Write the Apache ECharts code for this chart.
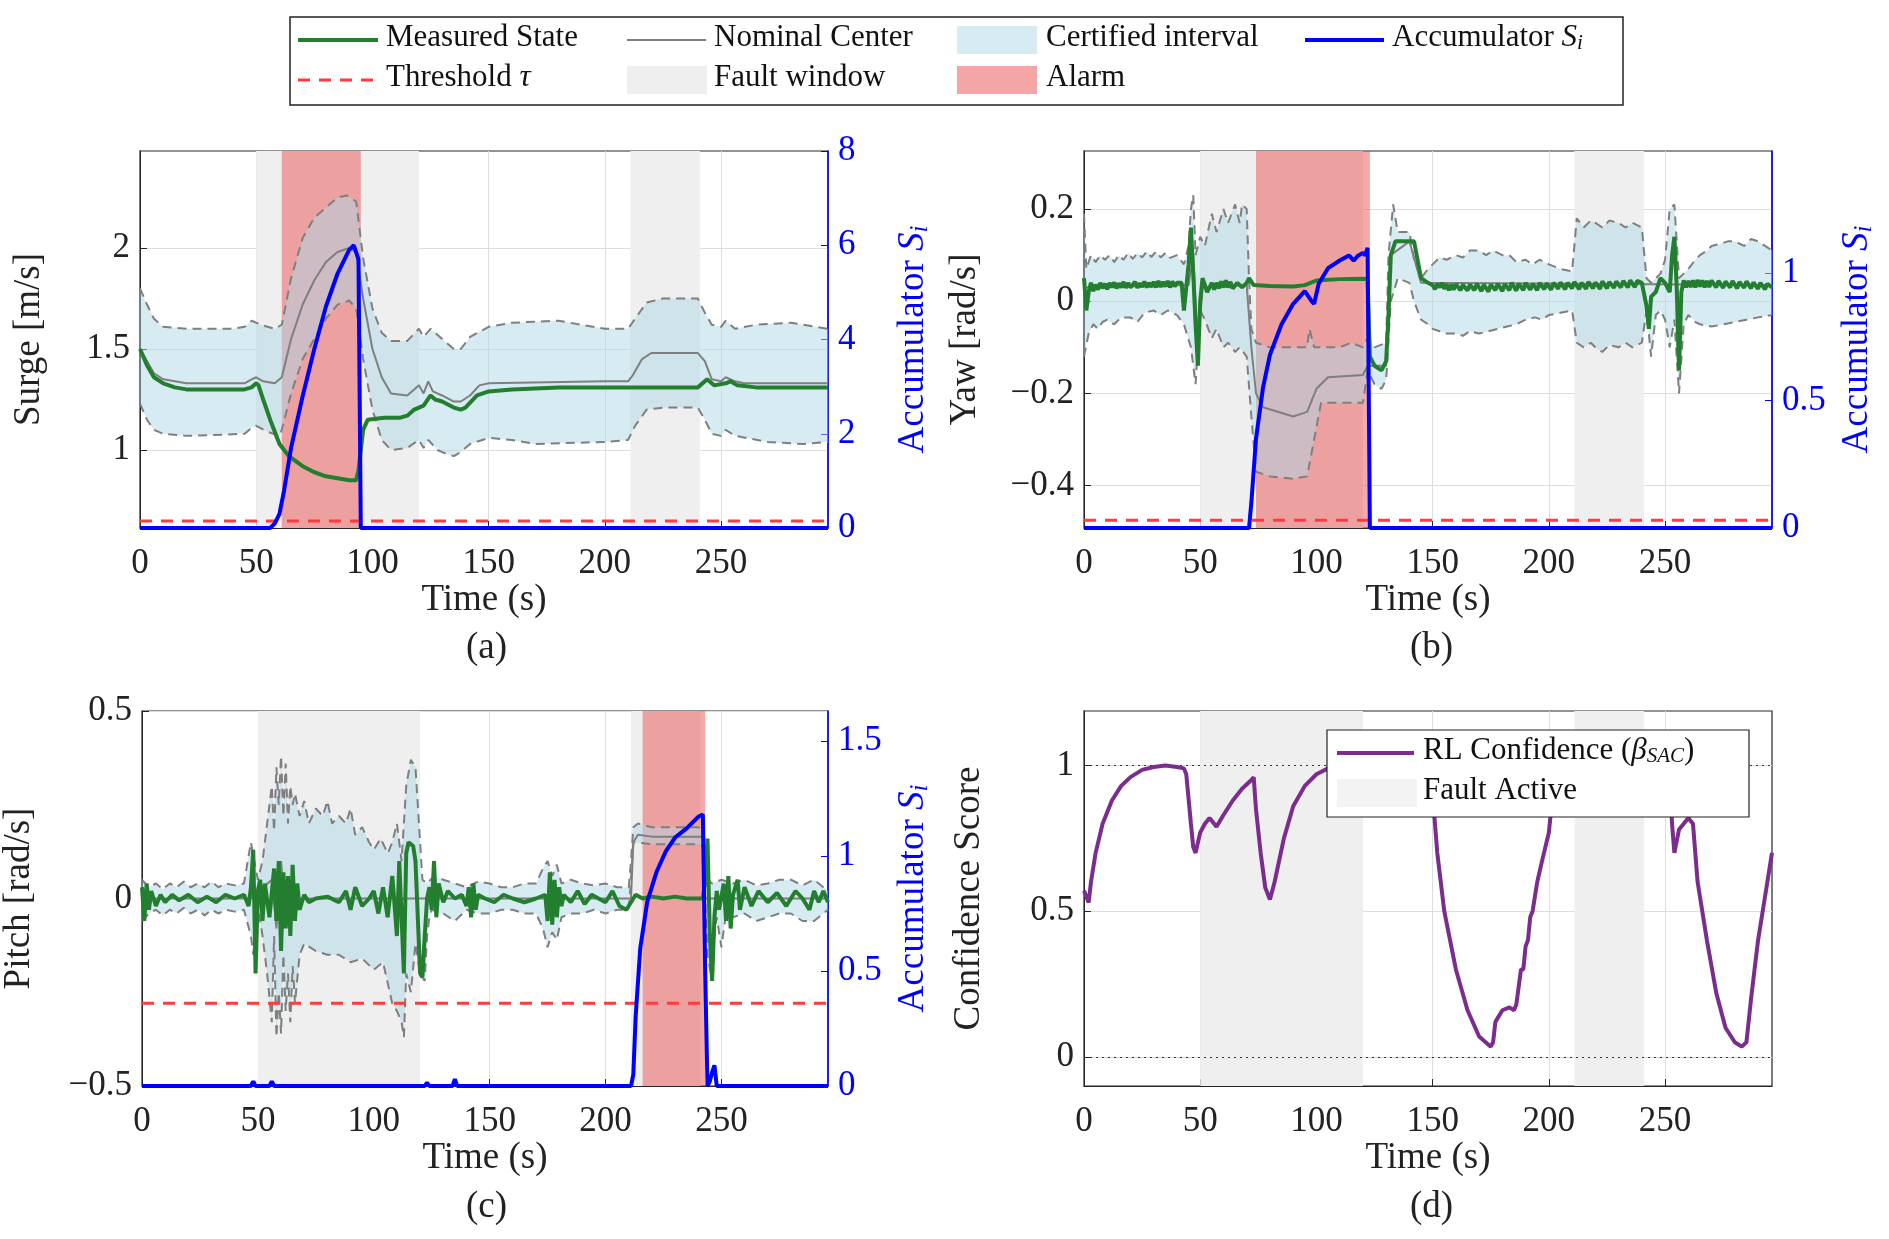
<!DOCTYPE html>
<html>
<head>
<meta charset="utf-8">
<script src="https://cdn.jsdelivr.net/npm/echarts@6/dist/echarts.min.js"></script>
<style>html,body{margin:0;padding:0;background:#fff}#main{width:1889px;height:1239px}</style>
</head>
<body>
<div id="main"></div>
<script type="text/javascript">
// ---------- shared ----------
var tMax = 296;
var xTicks = [0, 50, 100, 150, 200, 250];
var faultWins = [[50, 120], [211, 241]];

// ---------- (a) surge ----------
var alarmA = [61, 95];
var tauA = 0.15;
var measA = [[0,1.50],[3,1.42],[6,1.36],[10,1.33],[15,1.31],[20,1.30],[45,1.30],[48,1.31],[50,1.33],[51,1.32],[53,1.25],[56,1.15],[60,1.03],[64,0.97],[70,0.92],[75,0.89],[80,0.87],[85,0.86],[90,0.85],[93,0.85],[94,0.90],[96,1.10],[98,1.15],[105,1.16],[112,1.16],[115,1.17],[118,1.20],[122,1.22],[125,1.27],[127,1.25],[130,1.24],[135,1.21],[138,1.20],[140,1.21],[145,1.27],[150,1.29],[160,1.30],[180,1.31],[200,1.31],[240,1.31],[244,1.35],[247,1.32],[252,1.33],[254,1.34],[257,1.32],[265,1.31],[296,1.31]];
var nomA = [[0,1.50],[3,1.44],[6,1.38],[10,1.35],[20,1.33],[45,1.33],[48,1.35],[50,1.36],[53,1.34],[58,1.33],[61,1.36],[65,1.55],[70,1.72],[75,1.84],[80,1.93],[85,1.98],[90,2.00],[93,1.98],[96,1.75],[100,1.50],[104,1.36],[108,1.28],[115,1.27],[120,1.32],[122,1.28],[124,1.34],[126,1.29],[130,1.27],[135,1.24],[138,1.24],[142,1.27],[146,1.32],[150,1.33],[200,1.34],[210,1.34],[212,1.37],[216,1.45],[220,1.48],[240,1.48],[243,1.44],[246,1.35],[250,1.34],[252,1.36],[256,1.34],[260,1.33],[296,1.33]];
var upA = [[0,1.80],[3,1.72],[6,1.65],[10,1.61],[20,1.60],[40,1.60],[45,1.61],[48,1.64],[52,1.62],[58,1.60],[61,1.62],[65,1.85],[70,2.05],[75,2.15],[80,2.20],[85,2.25],[89,2.26],[93,2.23],[96,1.95],[100,1.70],[104,1.58],[108,1.54],[115,1.54],[120,1.60],[122,1.56],[125,1.60],[130,1.55],[135,1.50],[138,1.50],[142,1.56],[150,1.61],[160,1.63],[180,1.64],[200,1.60],[210,1.60],[213,1.65],[218,1.73],[225,1.75],[240,1.75],[243,1.68],[246,1.62],[250,1.61],[252,1.64],[256,1.60],[265,1.62],[280,1.63],[296,1.60]];
var loA = [[0,1.23],[3,1.15],[6,1.10],[10,1.08],[20,1.07],[45,1.08],[48,1.11],[50,1.12],[55,1.09],[60,1.07],[61,1.10],[65,1.28],[70,1.45],[75,1.55],[80,1.65],[85,1.72],[90,1.74],[93,1.70],[96,1.45],[100,1.20],[104,1.05],[108,1.00],[115,1.01],[120,1.05],[122,1.01],[124,1.05],[128,1.00],[132,0.98],[135,0.97],[138,0.99],[142,1.03],[150,1.06],[160,1.05],[170,1.03],[200,1.04],[210,1.05],[213,1.12],[218,1.20],[225,1.21],[240,1.21],[243,1.15],[246,1.08],[250,1.07],[252,1.10],[256,1.07],[270,1.04],[285,1.03],[296,1.04]];
var accA = [[0,0],[56,0],[58,0.1],[60,0.3],[62,0.8],[65,1.7],[70,2.8],[75,3.8],[80,4.7],[85,5.4],[90,5.9],[92,6.0],[94,5.7],[95,0],[296,0]];

// ---------- (b) yaw ----------
var alarmB = [74, 123];
var tauB = 0.03;
var measB = [[0,0.05],[1,-0.02],[2,0.02],[3,0.04],[4,0.022],[5,0.036],[6,0.025],[7,0.04],[8,0.028],[9,0.038],[10,0.026],[11,0.04],[12,0.03],[13,0.041],[14,0.028],[15,0.039],[16,0.03],[17,0.042],[18,0.029],[19,0.04],[20,0.03],[22,0.042],[23,0.029],[24,0.039],[25,0.031],[26,0.043],[27,0.03],[28,0.04],[29,0.031],[30,0.042],[31,0.03],[32,0.044],[33,0.031],[34,0.042],[35,0.032],[36,0.044],[37,0.03],[38,0.043],[39,0.032],[40,0.04],[42,0.04],[43,-0.02],[44,0.03],[45,0.08],[46,0.16],[47,0.06],[48,-0.05],[49,-0.14],[50,0.0],[51,0.05],[53,0.02],[55,0.04],[56,0.025],[57,0.04],[58,0.028],[59,0.043],[60,0.03],[61,0.045],[62,0.03],[63,0.042],[64,0.028],[66,0.04],[68,0.03],[70,0.04],[71,0.05],[73,0.035],[80,0.033],[90,0.032],[95,0.035],[100,0.045],[110,0.048],[120,0.049],[122,0.048],[123,-0.12],[125,-0.14],[128,-0.15],[130,-0.13],[131,-0.03],[132,0.10],[134,0.13],[140,0.13],[142,0.13],[145,0.05],[148,0.04],[150,0.035],[151,0.026],[152,0.038],[153,0.03],[154,0.04],[155,0.027],[156,0.037],[157,0.024],[158,0.036],[159,0.025],[160,0.037],[162,0.024],[163,0.036],[165,0.023],[166,0.036],[168,0.024],[169,0.038],[171,0.022],[172,0.036],[174,0.021],[175,0.036],[177,0.024],[178,0.038],[180,0.022],[181,0.037],[183,0.024],[184,0.04],[186,0.023],[187,0.038],[189,0.024],[190,0.04],[192,0.025],[193,0.038],[195,0.024],[196,0.04],[198,0.026],[199,0.039],[201,0.025],[202,0.04],[204,0.027],[205,0.041],[207,0.026],[208,0.04],[210,0.028],[211,0.042],[213,0.026],[214,0.04],[216,0.027],[217,0.042],[219,0.028],[220,0.041],[222,0.027],[223,0.043],[225,0.028],[226,0.042],[228,0.029],[229,0.043],[231,0.03],[232,0.044],[234,0.03],[235,0.045],[237,0.031],[238,0.044],[240,0.04],[242,-0.01],[243,-0.06],[244,0.01],[246,0.02],[248,0.05],[250,0.04],[252,0.02],[253,0.1],[254,0.14],[255,0.03],[256,-0.15],[257,0.02],[258,0.045],[259,0.03],[260,0.044],[261,0.031],[262,0.045],[263,0.03],[264,0.046],[265,0.032],[266,0.045],[267,0.03],[268,0.044],[269,0.031],[270,0.045],[272,0.03],[273,0.044],[275,0.029],[276,0.043],[278,0.03],[279,0.044],[281,0.028],[282,0.042],[284,0.029],[285,0.043],[287,0.028],[288,0.041],[290,0.027],[291,0.04],[293,0.026],[294,0.038],[296,0.03]];
var nomB = [[0,0.03],[45,0.035],[47,0.1],[49,-0.1],[51,0.03],[70,0.035],[72,-0.1],[74,-0.2],[77,-0.23],[90,-0.25],[96,-0.24],[100,-0.19],[105,-0.165],[120,-0.16],[122,-0.14],[130,-0.14],[132,0.1],[140,0.13],[145,0.04],[296,0.035]];
var upB = [[0,0.19],[1,0.07],[3,0.1],[5,0.085],[7,0.1],[9,0.09],[11,0.1],[13,0.085],[15,0.1],[17,0.09],[19,0.105],[21,0.092],[23,0.105],[25,0.095],[27,0.108],[29,0.096],[31,0.108],[33,0.095],[35,0.105],[37,0.094],[40,0.1],[43,0.08],[45,0.12],[46,0.2],[47,0.23],[48,0.1],[50,0.14],[52,0.12],[55,0.19],[57,0.15],[60,0.2],[62,0.17],[65,0.21],[67,0.17],[68,0.21],[70,0.2],[71,0.05],[72,-0.06],[74,-0.09],[80,-0.1],[96,-0.1],[97,-0.06],[99,-0.1],[110,-0.1],[115,-0.09],[120,-0.1],[122,-0.08],[125,-0.1],[130,-0.09],[131,0.1],[133,0.21],[135,0.15],[140,0.15],[142,0.09],[145,0.05],[148,0.07],[150,0.08],[153,0.095],[156,0.09],[160,0.1],[163,0.095],[166,0.11],[170,0.11],[173,0.1],[176,0.11],[180,0.1],[183,0.1],[186,0.085],[190,0.09],[193,0.08],[196,0.09],[200,0.08],[205,0.07],[210,0.065],[212,0.18],[215,0.16],[218,0.175],[220,0.17],[223,0.16],[226,0.175],[230,0.17],[233,0.16],[236,0.17],[240,0.16],[242,0.05],[244,0.04],[248,0.06],[250,0.09],[252,0.2],[254,0.21],[256,0.05],[258,0.06],[260,0.07],[263,0.09],[265,0.1],[268,0.11],[270,0.12],[274,0.125],[277,0.13],[280,0.13],[284,0.12],[287,0.135],[290,0.13],[293,0.12],[296,0.11]];
var loB = [[0,-0.12],[2,-0.07],[4,-0.05],[6,-0.06],[8,-0.045],[10,-0.04],[13,-0.05],[16,-0.035],[20,-0.035],[23,-0.045],[26,-0.025],[30,-0.02],[33,-0.03],[36,-0.02],[40,-0.03],[43,-0.05],[46,-0.1],[48,-0.18],[50,-0.02],[52,-0.04],[55,-0.08],[57,-0.06],[60,-0.1],[62,-0.09],[65,-0.11],[67,-0.1],[70,-0.12],[72,-0.25],[74,-0.37],[80,-0.38],[90,-0.385],[96,-0.38],[99,-0.3],[102,-0.22],[110,-0.22],[120,-0.22],[122,-0.15],[125,-0.18],[128,-0.19],[130,-0.17],[132,0.0],[135,0.05],[140,0.04],[142,0.0],[145,-0.04],[148,-0.05],[150,-0.06],[153,-0.065],[156,-0.07],[160,-0.07],[163,-0.075],[166,-0.065],[170,-0.07],[174,-0.065],[178,-0.06],[182,-0.055],[186,-0.05],[190,-0.04],[194,-0.035],[197,-0.04],[200,-0.03],[205,-0.025],[210,-0.02],[212,-0.09],[215,-0.1],[218,-0.09],[220,-0.1],[223,-0.11],[226,-0.095],[230,-0.1],[233,-0.09],[236,-0.1],[240,-0.09],[242,-0.02],[244,-0.12],[246,-0.03],[248,-0.02],[250,-0.04],[252,-0.1],[254,-0.04],[256,-0.2],[258,-0.05],[260,-0.03],[263,-0.045],[265,-0.05],[270,-0.055],[275,-0.05],[280,-0.045],[285,-0.04],[290,-0.035],[296,-0.03]];
var accB = [[0,0],[71,0],[72,0.1],[74,0.35],[77,0.55],[80,0.68],[85,0.8],[90,0.88],[95,0.93],[98,0.89],[99,0.88],[101,0.96],[105,1.02],[110,1.05],[114,1.07],[116,1.05],[118,1.07],[120,1.08],[121,1.07],[122,1.1],[123,0],[296,0]];

// ---------- (c) pitch ----------
var alarmC = [216, 243];
var tauC = 0.36;
var measC = [[0,0.03],[1,-0.06],[2,0.04],[3,-0.03],[4,0.02],[6,-0.02],[8,0.01],[10,-0.01],[13,0.01],[16,-0.005],[20,0.01],[24,-0.01],[28,0.005],[32,-0.01],[36,0.01],[40,0.0],[44,0.01],[46,-0.02],[47,0.03],[48,0.13],[49,-0.2],[50,0.02],[51,0.05],[52,-0.06],[53,0.04],[55,-0.05],[57,0.08],[58,-0.06],[59,0.1],[60,-0.14],[61,0.07],[62,-0.08],[63,0.06],[64,-0.1],[65,0.09],[66,-0.06],[67,0.04],[68,-0.03],[70,0.01],[72,-0.01],[75,0.0],[80,0.005],[85,-0.01],[88,0.02],[90,-0.03],[92,0.03],[95,-0.02],[98,0.0],[100,0.02],[102,-0.04],[104,0.03],[106,-0.05],[108,0.06],[110,-0.1],[111,0.1],[112,-0.05],[113,-0.2],[114,0.12],[115,0.15],[117,0.14],[118,0.1],[119,-0.05],[120,-0.2],[121,-0.21],[122,-0.1],[123,0.0],[124,0.03],[125,-0.03],[126,0.1],[127,-0.05],[128,0.04],[130,-0.01],[132,0.02],[135,0.0],[138,0.01],[140,-0.02],[141,0.03],[142,-0.05],[143,0.04],[144,-0.03],[145,0.01],[148,0.0],[152,-0.01],[156,0.01],[160,0.0],[165,-0.01],[170,0.0],[174,0.01],[175,-0.06],[176,0.07],[177,-0.07],[178,0.05],[179,-0.05],[180,0.03],[181,-0.02],[182,0.01],[185,-0.01],[188,0.02],[191,-0.015],[194,0.01],[197,0.0],[200,-0.01],[203,0.02],[206,-0.02],[209,-0.03],[211,-0.01],[213,0.01],[216,0.0],[220,0.005],[225,0.0],[230,0.005],[235,0.0],[240,0.0],[242,0.0],[243,0.05],[244,0.16],[245,-0.1],[246,-0.22],[247,-0.05],[248,0.02],[249,-0.03],[251,0.04],[252,-0.06],[253,0.06],[254,-0.08],[255,0.01],[257,0.05],[258,-0.03],[260,0.03],[263,-0.02],[266,0.02],[270,-0.01],[274,0.015],[278,-0.02],[282,0.02],[285,0.0],[288,-0.03],[290,0.02],[292,-0.01],[294,0.02],[296,-0.01]];
var nomC = [[0,0],[47,0],[56,0.05],[58,-0.08],[60,0.1],[62,-0.05],[64,0.04],[66,0],[211,0],[212,0.15],[214,0.17],[220,0.165],[242,0.165],[243,0],[296,0]];
var upC = [[0,0.05],[3,0.03],[6,0.04],[9,0.025],[12,0.04],[15,0.03],[18,0.045],[21,0.03],[24,0.04],[27,0.03],[30,0.045],[33,0.03],[36,0.04],[40,0.035],[44,0.04],[47,0.15],[50,0.05],[52,0.1],[54,0.2],[56,0.3],[57,0.18],[58,0.35],[59,0.25],[60,0.38],[61,0.22],[62,0.36],[63,0.2],[64,0.3],[65,0.25],[66,0.28],[68,0.22],[70,0.26],[72,0.2],[75,0.24],[78,0.22],[80,0.26],[82,0.2],[85,0.22],[88,0.2],[90,0.24],[92,0.17],[95,0.19],[98,0.15],[100,0.13],[103,0.16],[106,0.12],[108,0.15],[110,0.2],[112,0.1],[114,0.3],[116,0.37],[118,0.35],[119,0.25],[120,0.15],[121,0.05],[123,0.04],[126,0.06],[130,0.05],[135,0.04],[140,0.03],[145,0.045],[150,0.04],[155,0.03],[160,0.03],[165,0.04],[170,0.04],[173,0.08],[175,0.1],[177,0.06],[179,0.09],[181,0.04],[185,0.05],[190,0.04],[195,0.035],[200,0.04],[205,0.03],[210,0.03],[211,0.1],[212,0.19],[214,0.2],[220,0.19],[230,0.19],[240,0.19],[242,0.18],[243,0.1],[244,0.05],[246,0.04],[250,0.05],[255,0.04],[260,0.05],[265,0.035],[270,0.04],[275,0.05],[280,0.05],[285,0.035],[290,0.05],[296,0.02]];
var loC = [[0,-0.06],[3,-0.04],[6,-0.03],[9,-0.045],[12,-0.03],[15,-0.04],[18,-0.025],[21,-0.04],[24,-0.03],[27,-0.045],[30,-0.03],[33,-0.04],[36,-0.03],[40,-0.035],[44,-0.03],[47,-0.1],[48,-0.15],[50,-0.02],[52,-0.1],[54,-0.2],[56,-0.33],[57,-0.1],[58,-0.37],[59,-0.25],[60,-0.36],[61,-0.15],[62,-0.3],[63,-0.2],[64,-0.33],[65,-0.18],[66,-0.28],[68,-0.15],[70,-0.12],[75,-0.14],[80,-0.15],[85,-0.15],[90,-0.17],[95,-0.16],[100,-0.19],[104,-0.17],[108,-0.28],[110,-0.3],[112,-0.33],[113,-0.37],[114,-0.2],[116,-0.25],[118,-0.12],[120,-0.2],[122,-0.22],[123,-0.1],[124,-0.05],[125,-0.03],[130,-0.04],[135,-0.06],[140,-0.03],[145,-0.04],[150,-0.04],[155,-0.03],[160,-0.03],[165,-0.04],[170,-0.04],[173,-0.08],[175,-0.13],[177,-0.09],[179,-0.11],[181,-0.05],[185,-0.04],[190,-0.04],[195,-0.03],[200,-0.04],[205,-0.03],[210,-0.03],[211,0.05],[212,0.15],[220,0.145],[230,0.145],[240,0.145],[242,0.14],[243,0.0],[244,-0.15],[246,-0.22],[247,-0.1],[248,-0.05],[250,-0.13],[252,-0.04],[255,-0.05],[260,-0.04],[265,-0.06],[270,-0.05],[275,-0.04],[280,-0.04],[285,-0.06],[290,-0.06],[296,-0.03]];
var accC = [[0,0],[47,0],[48,0.02],[49,0],[55,0],[56,0.02],[57,0],[122,0],[123,0.015],[124,0],[134,0],[135,0.03],[136,0],[211,0],[212,0.05],[213,0.3],[215,0.6],[218,0.8],[222,0.93],[226,1.02],[230,1.08],[235,1.12],[240,1.17],[242,1.18],[243,0.5],[244,0],[245,0.02],[246,0.06],[247,0.09],[248,0],[296,0]];

// ---------- (d) confidence ----------
var confD = [[0,0.57],[1,0.55],[2,0.53],[3,0.6],[5,0.7],[8,0.8],[12,0.88],[16,0.93],[20,0.96],[25,0.985],[30,0.995],[35,1.0],[40,0.995],[43,0.99],[44,0.97],[46,0.8],[47,0.72],[48,0.7],[50,0.77],[52,0.8],[54,0.82],[56,0.8],[57,0.79],[60,0.83],[64,0.88],[68,0.92],[72,0.95],[73,0.96],[74,0.85],[76,0.7],[78,0.58],[80,0.54],[82,0.6],[86,0.75],[90,0.86],[95,0.93],[100,0.97],[105,0.99],[110,1.0],[130,1.0],[140,1.0],[148,0.98],[150,0.9],[152,0.7],[155,0.5],[160,0.3],[165,0.16],[170,0.07],[175,0.035],[176,0.05],[177,0.12],[180,0.16],[183,0.17],[185,0.16],[186,0.18],[188,0.3],[189,0.3],[190,0.38],[191,0.4],[192,0.48],[193,0.5],[194,0.55],[195,0.6],[197,0.67],[200,0.77],[201,0.85],[205,0.92],[210,0.97],[220,0.99],[250,1.0],[252,0.95],[253,0.8],[254,0.7],[256,0.78],[258,0.8],[260,0.82],[262,0.8],[264,0.6],[268,0.4],[272,0.22],[276,0.1],[280,0.05],[283,0.035],[285,0.05],[287,0.2],[290,0.4],[294,0.6],[296,0.7]];

// ---------- colours / fonts ----------
var FF = '"Liberation Serif", "DejaVu Serif", serif';
var cGreen = '#237f2f', cGray = '#7f7f7f', cBlue = '#0000ff', cRed = '#ff3b3b';
var cBand = 'rgba(173,216,230,0.5)', cFault = '#efefef', cAlarm = 'rgba(232,64,64,0.45)', cPurple = '#7b2d8e';

function fmt(v){ return String(v).replace('-', '\u2212'); }

var grids = [
  {left:140, top:151, width:688, height:377},
  {left:1084, top:151, width:688, height:377},
  {left:140, top:711, width:688, height:375},
  {left:1084, top:711, width:688, height:375}
];
grids.forEach(function(g){ g.show = true; g.borderColor = '#262626'; g.borderWidth = 1.2; g.backgroundColor = 'transparent'; });

var xAxes = grids.map(function(g, i){
  return {
    gridIndex:i, type:'value', min:0, max:tMax,
    name:'Time (s)', nameLocation:'middle', nameGap:54,
    nameTextStyle:{fontFamily:FF, fontSize:37, color:'#222'},
    axisLine:{onZero:false, lineStyle:{color:'#262626'}},
    axisTick:{inside:true, length:7, customValues:xTicks, lineStyle:{color:'#262626'}},
    axisLabel:{customValues:xTicks, fontFamily:FF, fontSize:35, color:'#222', margin:18},
    splitLine:{show:true, lineStyle:{color:'#dedede'}}
  };
});

function leftAx(gi, min, max, ticks, name, gap){
  return {
    gridIndex:gi, type:'value', min:min, max:max, position:'left',
    name:name, nameLocation:'middle', nameGap:gap, nameRotate:90,
    nameTextStyle:{fontFamily:FF, fontSize:37, color:'#222'},
    axisLine:{show:true, onZero:false, lineStyle:{color:'#262626'}},
    axisTick:{show:true, inside:true, length:7, customValues:ticks},
    axisLabel:{customValues:ticks, fontFamily:FF, fontSize:35, color:'#222', margin:10, formatter:fmt},
    splitLine:{show:true, lineStyle:{color:'#dedede'}}
  };
}
function rightAx(gi, max, ticks){
  return {
    gridIndex:gi, type:'value', min:0, max:max, position:'right',
    name:'{n|Accumulator }{s|S}{i|i}', nameLocation:'middle', nameGap:66, nameRotate:90,
    nameTextStyle:{color:cBlue, rich:{
      n:{fontFamily:FF, fontSize:37, color:cBlue},
      s:{fontFamily:FF, fontSize:37, fontStyle:'italic', color:cBlue},
      i:{fontFamily:FF, fontSize:25, fontStyle:'italic', color:cBlue, verticalAlign:'bottom', padding:[14,0,0,0]}}},
    axisLine:{show:true, onZero:false, lineStyle:{color:cBlue, width:1.5}},
    axisTick:{show:true, inside:true, length:7, customValues:ticks, lineStyle:{color:cBlue}},
    axisLabel:{customValues:ticks, fontFamily:FF, fontSize:35, color:cBlue, margin:10},
    splitLine:{show:false}
  };
}

var yAxes = [
  leftAx(0, 0.614, 2.48, [1, 1.5, 2], 'Surge [m/s]', 92),
  rightAx(0, 8, [0, 2, 4, 6, 8]),
  leftAx(1, -0.492, 0.326, [-0.4, -0.2, 0, 0.2], 'Yaw [rad/s]', 100),
  rightAx(1, 1.48, [0, 0.5, 1]),
  leftAx(2, -0.5, 0.5, [-0.5, 0, 0.5], 'Pitch [rad/s]', 104),
  rightAx(2, 1.63, [0, 0.5, 1, 1.5]),
  leftAx(3, -0.1, 1.187, [0, 0.5, 1], 'Confidence Score', 96)
];

function bandSeries(xi, yi, up, lo){
  return {
    type:'custom', xAxisIndex:xi, yAxisIndex:yi, z:3, silent:true,
    data:[[0]],
    renderItem:function(params, api){
      var p = [];
      up.forEach(function(d){ p.push(api.coord(d)); });
      for (var k = lo.length - 1; k >= 0; k--) p.push(api.coord(lo[k]));
      return {type:'polygon', shape:{points:p}, style:{fill:cBand}};
    }
  };
}
function shadeSeries(xi, yi, alarm){
  var areas = faultWins.map(function(w){ return [{xAxis:w[0], itemStyle:{color:cFault}}, {xAxis:w[1]}]; });
  if (alarm) areas.push([{xAxis:alarm[0], itemStyle:{color:cAlarm}}, {xAxis:alarm[1]}]);
  return {type:'line', xAxisIndex:xi, yAxisIndex:yi, data:[], z:1, silent:true,
    markArea:{silent:true, data:areas}};
}
function lineS(xi, yi, data, color, width, type, z){
  return {type:'line', xAxisIndex:xi, yAxisIndex:yi, data:data, showSymbol:false, symbol:'none', z:z,
    lineStyle:{color:color, width:width, type:type || 'solid'}, silent:true};
}
function panel(gi, yl, yr, alarm, tau, up, lo, nom, meas, acc){
  return [
    shadeSeries(gi, yl, alarm),
    bandSeries(gi, yl, up, lo),
    lineS(gi, yl, up, cGray, 2, [9, 6], 4),
    lineS(gi, yl, lo, cGray, 2, [9, 6], 4),
    lineS(gi, yl, nom, cGray, 2, 'solid', 5),
    lineS(gi, yl, meas, cGreen, 4, 'solid', 6),
    lineS(gi, yr, [[0, tau], [tMax, tau]], cRed, 3, [12, 9], 7),
    lineS(gi, yr, acc, cBlue, 4, 'solid', 8)
  ];
}

var series = [].concat(
  panel(0, 0, 1, alarmA, tauA, upA, loA, nomA, measA, accA),
  panel(1, 2, 3, alarmB, tauB, upB, loB, nomB, measB, accB),
  panel(2, 4, 5, alarmC, tauC, upC, loC, nomC, measC, accC),
  [shadeSeries(3, 6, null),
   {type:'line', xAxisIndex:3, yAxisIndex:6, data:confD, showSymbol:false, symbol:'none', z:6, silent:true,
    lineStyle:{color:cPurple, width:4},
    markLine:{silent:true, symbol:'none', label:{show:false},
      lineStyle:{color:'#333', type:[2, 4], width:1.2}, data:[{yAxis:0}, {yAxis:1}]}}]
);

// ---------- legends (drawn as graphics) ----------
var T = {fontFamily:FF, fontSize:31, fill:'#111', verticalAlign:'middle'};
function txt(x, y, s, rich){ return {type:'text', left:x, top:y - 18, z:100, style:Object.assign({}, T, {text:s, rich:rich})}; }
function seg(x1, x2, y, color, w, dash){ return {type:'line', z:100, shape:{x1:x1, y1:y, x2:x2, y2:y}, style:{stroke:color, lineWidth:w, lineDash:dash || null}}; }
function patch(x, y, color){ return {type:'rect', z:100, shape:{x:x, y:y - 14, width:80, height:28}, style:{fill:color}}; }
var itR = {t:{fontFamily:FF, fontSize:31, fontStyle:'italic', fill:'#111'}, s:{fontFamily:FF, fontSize:21, fontStyle:'italic', fill:'#111', padding:[12,0,0,0]}};

var graphic = [
  {type:'rect', z:99, shape:{x:290, y:17, width:1333, height:88}, style:{fill:'#fff', stroke:'#222', lineWidth:1.5}},
  seg(298, 378, 40, cGreen, 4), txt(386, 40, 'Measured State'),
  seg(627, 706, 40, cGray, 2), txt(714, 40, 'Nominal Center'),
  patch(957, 40, '#d6ecf2'), txt(1046, 40, 'Certified interval'),
  seg(1305, 1384, 40, cBlue, 4), txt(1392, 40, 'Accumulator {t|S}{s|i}', itR),
  seg(298, 378, 80, cRed, 3, [12, 9]), txt(386, 80, 'Threshold {t|\u03c4}', itR),
  patch(627, 80, cFault), txt(714, 80, 'Fault window'),
  patch(957, 80, '#f4a6a6'), txt(1046, 80, 'Alarm'),
  {type:'rect', z:99, shape:{x:1327, y:730, width:422, height:87}, style:{fill:'#fff', stroke:'#222', lineWidth:1.2}},
  seg(1337, 1414, 753, cPurple, 4), txt(1423, 753, 'RL Confidence ({t|\u03b2}{s|SAC})', itR),
  patch(1337, 793, '#f3f3f3'), txt(1423, 793, 'Fault Active'),
  {type:'text', z:100, left:466, top:630, style:{text:'(a)', fontFamily:FF, fontSize:37, fill:'#222'}},
  {type:'text', z:100, left:1410, top:630, style:{text:'(b)', fontFamily:FF, fontSize:37, fill:'#222'}},
  {type:'text', z:100, left:466, top:1189, style:{text:'(c)', fontFamily:FF, fontSize:37, fill:'#222'}},
  {type:'text', z:100, left:1410, top:1189, style:{text:'(d)', fontFamily:FF, fontSize:37, fill:'#222'}}
];

var chart = echarts.init(document.getElementById('main'), null, {renderer:'canvas'});
chart.setOption({
  animation:false,
  backgroundColor:'#fff',
  grid:grids, xAxis:xAxes, yAxis:yAxes, series:series, graphic:graphic
});
</script>
</body>
</html>
